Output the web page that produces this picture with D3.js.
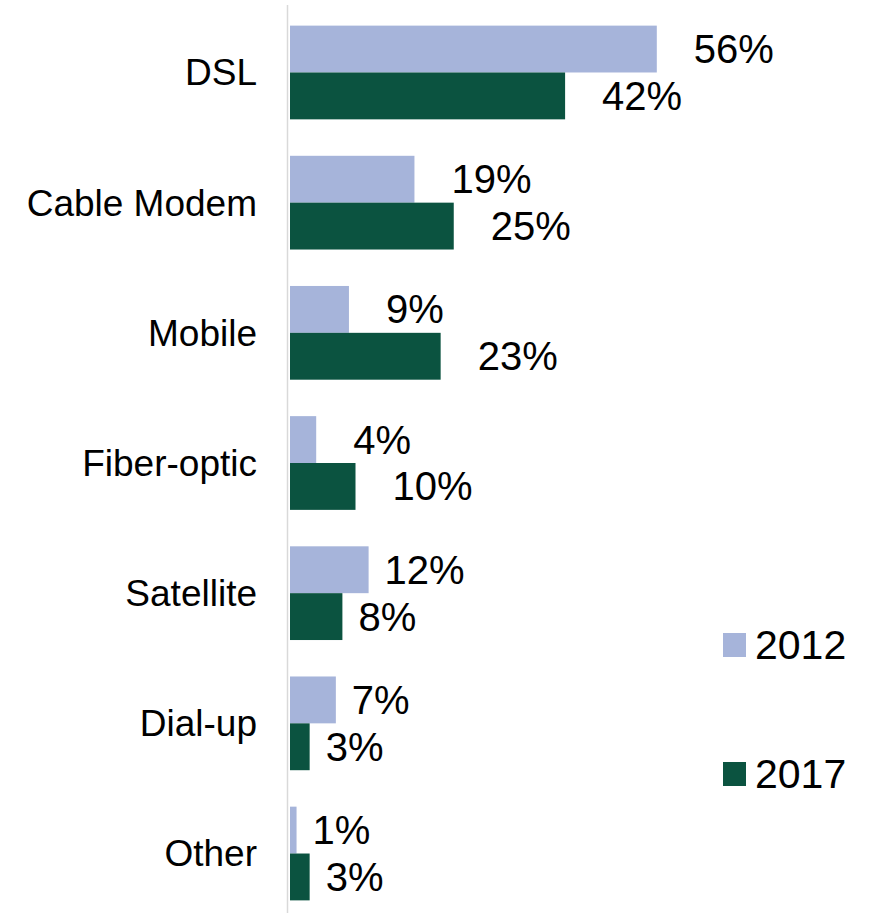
<!DOCTYPE html>
<html>
<head>
<meta charset="utf-8">
<script src="https://cdn.jsdelivr.net/npm/d3@7"></script>
<style>
  body { margin: 0; background: #fff; }
  text { font-family: Arial, "Liberation Sans", sans-serif; fill: #000; }
</style>
</head>
<body>
<script>
// categories, top to bottom
const categories = ["DSL", "Cable Modem", "Mobile", "Fiber-optic", "Satellite", "Dial-up", "Other"];
const seriesNames = ["2012", "2017"];
// shares in percent
const values2012 = [56, 19, 9, 4, 12, 7, 1];
const values2017 = [42, 25, 23, 10, 8, 3, 3];
const colors = ["#a6b4da", "#0b5340"];

const width = 876, height = 913;
const x0 = 290;
// gap between bar end and its label (bottom groups sit closer)
const labelGap = i => i < 4 ? 37 : 16;

const svg = d3.select("body").append("svg")
    .attr("width", width)
    .attr("height", height);

//value scale, about 6.55px per percent
const xScale = d3.scaleLinear()
    .domain([0, 100])
    .range([x0, x0 + 655]);

const yScale = d3.scaleBand()
    .domain(categories)
    .range([7.4, 918.6])
    .paddingInner(0.28)
    .paddingOuter(0.14);

const ySub = d3.scaleBand()
    .domain(seriesNames)
    .range([0, yScale.bandwidth()]);

const rows = categories.map((c, i) => ({
    cat: c,
    idx: i,
    vals: [
        { key: seriesNames[0], v: values2012[i] },
        { key: seriesNames[1], v: values2017[i] }
    ]
}));

const groups = svg.selectAll("g.cat")
    .data(rows)
    .enter().append("g")
    .attr("class", "cat")
    .attr("transform", d => "translate(0," + yScale(d.cat) + ")");

groups.selectAll("rect")
    .data(d => d.vals)
    .enter().append("rect")
    .attr("x", xScale(0))
    .attr("y", d => ySub(d.key))
    .attr("width", d => xScale(d.v) - xScale(0))
    .attr("height", ySub.bandwidth())
    .style("fill", (d, i) => colors[i]);

groups.each(function (row) {
    d3.select(this).selectAll("text.val")
        .data(row.vals)
        .enter().append("text")
        .attr("class", "val")
        .attr("x", d => xScale(d.v) + labelGap(row.idx))
        .attr("y", d => ySub(d.key) + ySub.bandwidth() / 2)
        .attr("dy", "0.35em")
        .style("font-size", "40px")
        .text(d => d.v + "%");
});

//category axis on the left
const yAxis = d3.axisLeft(yScale).tickSize(0).tickPadding(31);
const axisG = svg.append("g")
    .attr("transform", "translate(" + (x0 - 2) + ",0)")
    .call(yAxis);
axisG.select(".domain").remove();
axisG.selectAll("text")
    .style("font-size", "37px")
    .attr("dy", "0.35em")
    .style("font-family", "Arial, 'Liberation Sans', sans-serif");

svg.append("line")
    .attr("x1", x0 - 2.5).attr("x2", x0 - 2.5)
    .attr("y1", 5).attr("y2", height)
    .style("stroke", "#d9d9d9")
    .style("stroke-width", 1.5);

//legend
const legend = svg.selectAll("g.legend")
    .data(seriesNames)
    .enter().append("g")
    .attr("class", "legend")
    .attr("transform", (d, i) => "translate(723," + (633 + i * 129) + ")");
legend.append("rect")
    .attr("width", 23)
    .attr("height", 24)
    .style("fill", (d, i) => colors[i]);
legend.append("text")
    .attr("x", 32)
    .attr("y", 12)
    .attr("dy", "0.35em")
    .style("font-size", "41px")
    .text(d => d);
</script>
</body>
</html>
